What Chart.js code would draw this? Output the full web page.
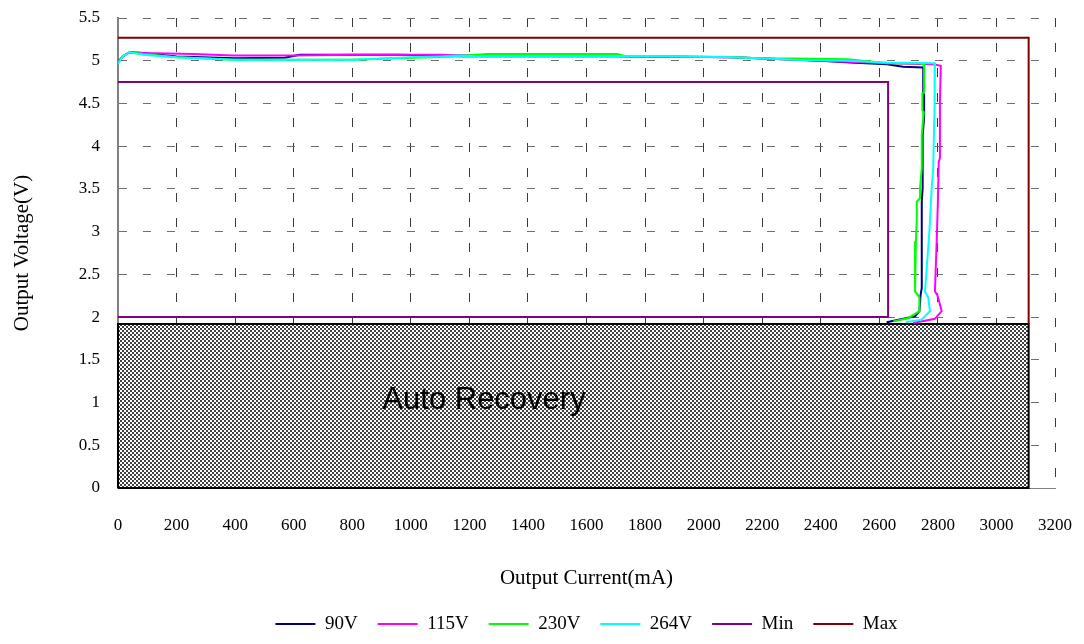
<!DOCTYPE html>
<html>
<head>
<meta charset="utf-8">
<title>Output Voltage vs Output Current</title>
<script src="https://cdn.jsdelivr.net/npm/chart.js@4.4.1/dist/chart.umd.min.js"></script>
<style>
    html, body { margin: 0; padding: 0; background: #fff; }
    #wrap { width: 1084px; height: 644px; }
</style>
</head>
<body>
<div id="wrap"><canvas id="vcChart" width="1084" height="644"></canvas></div>
<script>
// axis ticks
const xTickValues = [0, 200, 400, 600, 800, 1000, 1200, 1400, 1600, 1800, 2000, 2200, 2400, 2600, 2800, 3000, 3200];
const yTickValues = [0, 0.5, 1, 1.5, 2, 2.5, 3, 3.5, 4, 4.5, 5, 5.5];

const seriesNames = ['90V', '115V', '230V', '264V', 'Min', 'Max'];

// 90V curve
const v90X = [0, 20, 40, 86, 200, 400, 570, 620, 960, 1100, 1700, 2100, 2400, 2500, 2626, 2681, 2750, 2750, 2753, 2753, 2748, 2748, 2745, 2745, 2741, 2737, 2722, 2625];
const v90Y = [4.99, 5.06, 5.1, 5.09, 5.05, 5.03, 5.035, 5.07, 5.07, 5.06, 5.055, 5.04, 5.0, 4.98, 4.96, 4.93, 4.92, 4.62, 4.60, 4.33, 4.13, 3.51, 3.35, 2.34, 2.26, 2.07, 2.01, 1.94];

// 115V curve
const v115X = [0, 15, 40, 86, 256, 393, 600, 800, 1110, 1168, 1700, 2100, 2400, 2626, 2784, 2810, 2807, 2807, 2803, 2800, 2796, 2790, 2798, 2813, 2790, 2716];
const v115Y = [4.98, 5.05, 5.1, 5.09, 5.08, 5.06, 5.06, 5.07, 5.07, 5.05, 5.05, 5.04, 5.0, 4.97, 4.96, 4.94, 4.52, 3.86, 3.82, 3.35, 2.89, 2.30, 2.26, 2.07, 1.98, 1.93];

// 230V curve
const v230X = [0, 15, 40, 86, 200, 400, 800, 1145, 1260, 1704, 1738, 2080, 2193, 2306, 2490, 2626, 2739, 2754, 2753, 2747, 2747, 2752, 2750, 2745, 2745, 2739, 2739, 2728, 2728, 2725, 2722, 2722, 2737, 2737, 2700, 2648];
const v230Y = [4.97, 5.05, 5.1, 5.08, 5.04, 5.01, 5.01, 5.05, 5.08, 5.08, 5.05, 5.045, 5.03, 5.025, 5.016, 4.97, 4.97, 4.95, 4.63, 4.62, 4.42, 4.40, 4.33, 4.13, 3.74, 3.51, 3.39, 3.35, 3.16, 2.89, 2.65, 2.30, 2.23, 2.07, 1.99, 1.95];

// 264V curve
const v264X = [0, 15, 40, 86, 200, 400, 800, 1000, 1168, 1851, 2080, 2193, 2306, 2490, 2626, 2790, 2790, 2788, 2784, 2779, 2771, 2762, 2756, 2767, 2773, 2745, 2690];
const v264Y = [4.96, 5.05, 5.1, 5.07, 5.04, 5.01, 5.01, 5.04, 5.055, 5.055, 5.045, 5.03, 5.01, 5.0, 4.98, 4.97, 4.60, 4.52, 3.74, 3.51, 3.0, 2.58, 2.30, 2.23, 2.07, 1.97, 1.94];

// limit boxes
const minX = [0, 2630, 2630, 0];
const minY = [4.75, 4.75, 2.0, 2.0];
const maxX = [0, 3110, 3110];
const maxY = [5.27, 5.27, 1.92];

// auto recovery region
const recoveryX = [0, 0, 3110, 3110, 0];
const recoveryY = [0, 1.92, 1.92, 0, 0];
const recoveryText = 'Auto Recovery';
const recoveryTextX = 1250;
const recoveryTextY = 0.925;

const serifFont = '"Liberation Serif", "Times New Roman", serif';

// Function to zip x and y arrays into points
function toPoints(xs, ys) {
    return xs.map((x, i) => ({ x: x, y: ys[i] }));
}

// small checker pattern for the hatched box
function makeChecker() {
    const c = document.createElement('canvas');
    c.width = 4;
    c.height = 4;
    const g = c.getContext('2d');
    g.fillStyle = '#ffffff';
    g.fillRect(0, 0, 4, 4);
    g.fillStyle = '#404040';
    g.fillRect(0, 0, 2, 2);
    g.fillRect(2, 2, 2, 2);
    return g.createPattern(c, 'repeat');
}

function curve(label, xs, ys, color, order) {
    return {
        label: label,
        data: toPoints(xs, ys),
        borderColor: color,
        backgroundColor: color,
        borderWidth: 2,
        pointRadius: 0,
        showLine: true,
        fill: false,
        tension: 0,
        order: order
    };
}

// text label inside the hatched box
const recoveryLabel = {
    id: 'recoveryLabel',
    afterDatasetsDraw(chart) {
        const ctx = chart.ctx;
        const x = chart.scales.x.getPixelForValue(recoveryTextX);
        const y = chart.scales.y.getPixelForValue(recoveryTextY);
        ctx.save();
        ctx.font = '31px "Liberation Sans", Arial, sans-serif';
        ctx.fillStyle = '#000';
        ctx.textAlign = 'center';
        ctx.textBaseline = 'alphabetic';
        ctx.fillText(recoveryText, x, y);
        ctx.restore();
    }
};

document.addEventListener('DOMContentLoaded', () => {
    const ctx = document.getElementById('vcChart').getContext('2d');

    const datasets = [
        curve(seriesNames[0], v90X, v90Y, '#000080', 6),
        curve(seriesNames[1], v115X, v115Y, '#ff00ff', 5),
        curve(seriesNames[2], v230X, v230Y, '#00ff00', 4),
        curve(seriesNames[3], v264X, v264Y, '#00ffff', 3),
        curve(seriesNames[4], minX, minY, '#800080', 2),
        curve(seriesNames[5], maxX, maxY, '#800000', 1),
        {
            label: 'recovery',
            data: toPoints(recoveryX, recoveryY),
            borderColor: '#000',
            backgroundColor: makeChecker(),
            borderWidth: 2,
            pointRadius: 0,
            showLine: true,
            fill: 'shape',
            order: 10,
            clip: 3
        }
    ];

    new Chart(ctx, {
        type: 'scatter',
        data: { datasets: datasets },
        plugins: [recoveryLabel],
        options: {
            responsive: false,
            animation: false,
            events: [],
            layout: { padding: { left: 0, right: 29, top: 18, bottom: 0.5 } },
            plugins: {
                tooltip: { enabled: false },
                legend: {
                    position: 'bottom',
                    fullSize: false,
                    labels: {
                        usePointStyle: true,
                        pointStyle: 'line',
                        pointStyleWidth: 40,
                        padding: 20,
                        color: '#000',
                        font: { family: serifFont, size: 19 },
                        filter: item => item.datasetIndex < 6,
                        sort: (a, b) => a.datasetIndex - b.datasetIndex
                    }
                }
            },
            scales: {
                x: {
                    type: 'linear',
                    min: 0,
                    max: 3200,
                    afterBuildTicks: s => { s.ticks = xTickValues.map(v => ({ value: v })); },
                    afterFit: s => { s.height = 106.5; },
                    ticks: {
                        padding: 0,
                        color: '#000',
                        font: { family: serifFont, size: 17 },
                        maxRotation: 0,
                        autoSkip: false,
                        callback: v => String(v)
                    },
                    // invisible tick marks keep the labels away from the axis
                    grid: { color: '#3a3a3a', lineWidth: 1, drawTicks: true, tickLength: 27, tickColor: 'rgba(0,0,0,0)' },
                    border: { display: true, color: '#808080', width: 1, dash: [9, 16] },
                    title: {
                        display: true,
                        text: 'Output Current(mA)',
                        color: '#000',
                        font: { family: serifFont, size: 21 },
                        padding: { top: 0, bottom: 3.9 }
                    }
                },
                y: {
                    type: 'linear',
                    min: 0,
                    max: 5.5,
                    afterBuildTicks: s => { s.ticks = yTickValues.map(v => ({ value: v })); },
                    afterFit: s => { s.width = 118; },
                    ticks: {
                        padding: 0,
                        color: '#000',
                        font: { family: serifFont, size: 17 },
                        autoSkip: false,
                        callback: v => String(v)
                    },
                    grid: { color: '#707070', lineWidth: 1, drawTicks: true, tickLength: 18, tickColor: 'rgba(0,0,0,0)' },
                    border: { display: true, color: '#808080', width: 2, dash: [8, 16] },
                    title: {
                        display: true,
                        text: 'Output Voltage(V)',
                        color: '#000',
                        font: { family: serifFont, size: 21 },
                        padding: { top: 9.4, bottom: 0 }
                    }
                }
            }
        }
    });
});
</script>
</body>
</html>
